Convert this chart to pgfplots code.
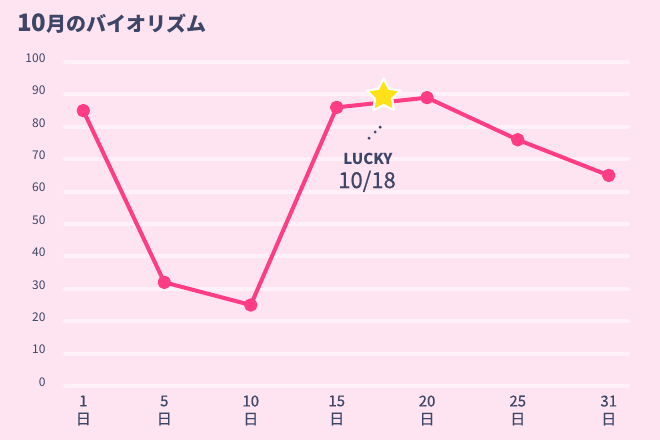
\documentclass[border=0pt]{standalone}
\usepackage{fontspec}
\setmainfont{Noto Sans CJK JP}
\newfontfamily\medfont{Noto Sans CJK JP}[FakeBold=0.5]
\usepackage{pgfplots}
\pgfplotsset{compat=1.18}

\definecolor{bgpink}{HTML}{FDE4F0}
\definecolor{gridpink}{HTML}{FFF1F7}
\definecolor{hotpink}{HTML}{FF3D84}
\definecolor{ink}{HTML}{3E4566}
\definecolor{staryellow}{HTML}{FFE11A}

% five-point star used for the lucky day
\pgfdeclareplotmark{luckystar}{%
  \pgfpathmoveto{\pgfpointpolar{90}{\pgfplotmarksize}}%
  \pgfpathlineto{\pgfpointpolar{126}{0.52\pgfplotmarksize}}%
  \pgfpathlineto{\pgfpointpolar{162}{\pgfplotmarksize}}%
  \pgfpathlineto{\pgfpointpolar{198}{0.52\pgfplotmarksize}}%
  \pgfpathlineto{\pgfpointpolar{234}{\pgfplotmarksize}}%
  \pgfpathlineto{\pgfpointpolar{270}{0.52\pgfplotmarksize}}%
  \pgfpathlineto{\pgfpointpolar{306}{\pgfplotmarksize}}%
  \pgfpathlineto{\pgfpointpolar{342}{0.52\pgfplotmarksize}}%
  \pgfpathlineto{\pgfpointpolar{18}{\pgfplotmarksize}}%
  \pgfpathlineto{\pgfpointpolar{54}{0.52\pgfplotmarksize}}%
  \pgfpathclose
  \pgfusepathqfillstroke}

\begin{document}
\begin{tikzpicture}
\fill[bgpink] (-65pt,-54pt) rectangle (595pt,386pt);
\node[anchor=base west, text=ink, inner sep=0pt, font=\bfseries] at (-48pt,354pt)
  {\fontsize{24}{28}\selectfont 10\fontsize{20}{24}\selectfont 月のバイオリズム};
\begin{axis}[
    at={(0pt,0pt)}, anchor=south west,
    scale only axis,
    width=563pt, height=324pt,
    xmin=-0.209, xmax=6.22,
    ymin=0, ymax=100,
    ytick={0,10,...,100},
    xtick={0,0.925,1.912,2.894,3.925,4.961,6},
    xticklabels={{1\\日},{5\\日},{10\\日},{15\\日},{20\\日},{25\\日},{31\\日}},
    axis line style={draw=none},
    major tick length=0pt,
    ymajorgrids=true,
    grid style={line width=4pt, gridpink, line cap=round},
    /pgf/number format/assume math mode=true,
    yticklabel style={font=\fontsize{12}{14}\selectfont, text=ink, anchor=east, xshift=-16pt, yshift=4pt},
    xticklabel style={font=\medfont\fontsize{15}{18}\selectfont, text=ink, align=center, anchor=north, yshift=-6pt},
    clip=false,
]
\addplot[hotpink, line width=4pt, line join=round, mark=*, mark size=4.7pt,
         mark options={fill=hotpink, draw=none}]
  coordinates {(0,85) (0.925,32) (1.912,25) (2.894,86) (3.925,89) (4.961,76) (6,65)};
% lucky day 10/18
\addplot[only marks, mark=luckystar, mark size=17.5pt,
         mark options={fill=staryellow, draw=white, line width=2.2pt, line join=round}]
  coordinates {(3.429,89.5)};
\addplot[only marks, mark=*, mark size=1.3pt, ink]
  coordinates {(3.263,76.5) (3.332,78.4) (3.389,79.9)};
\node[anchor=base, text=ink, font=\bfseries\fontsize{15}{18}\selectfont] at (axis cs:3.251,68.5) {LUCKY};
\node[anchor=base, text=ink, font=\medfont\fontsize{22}{26}\selectfont] at (axis cs:3.240,61.1) {10/18};
\end{axis}
\end{tikzpicture}
\end{document}
